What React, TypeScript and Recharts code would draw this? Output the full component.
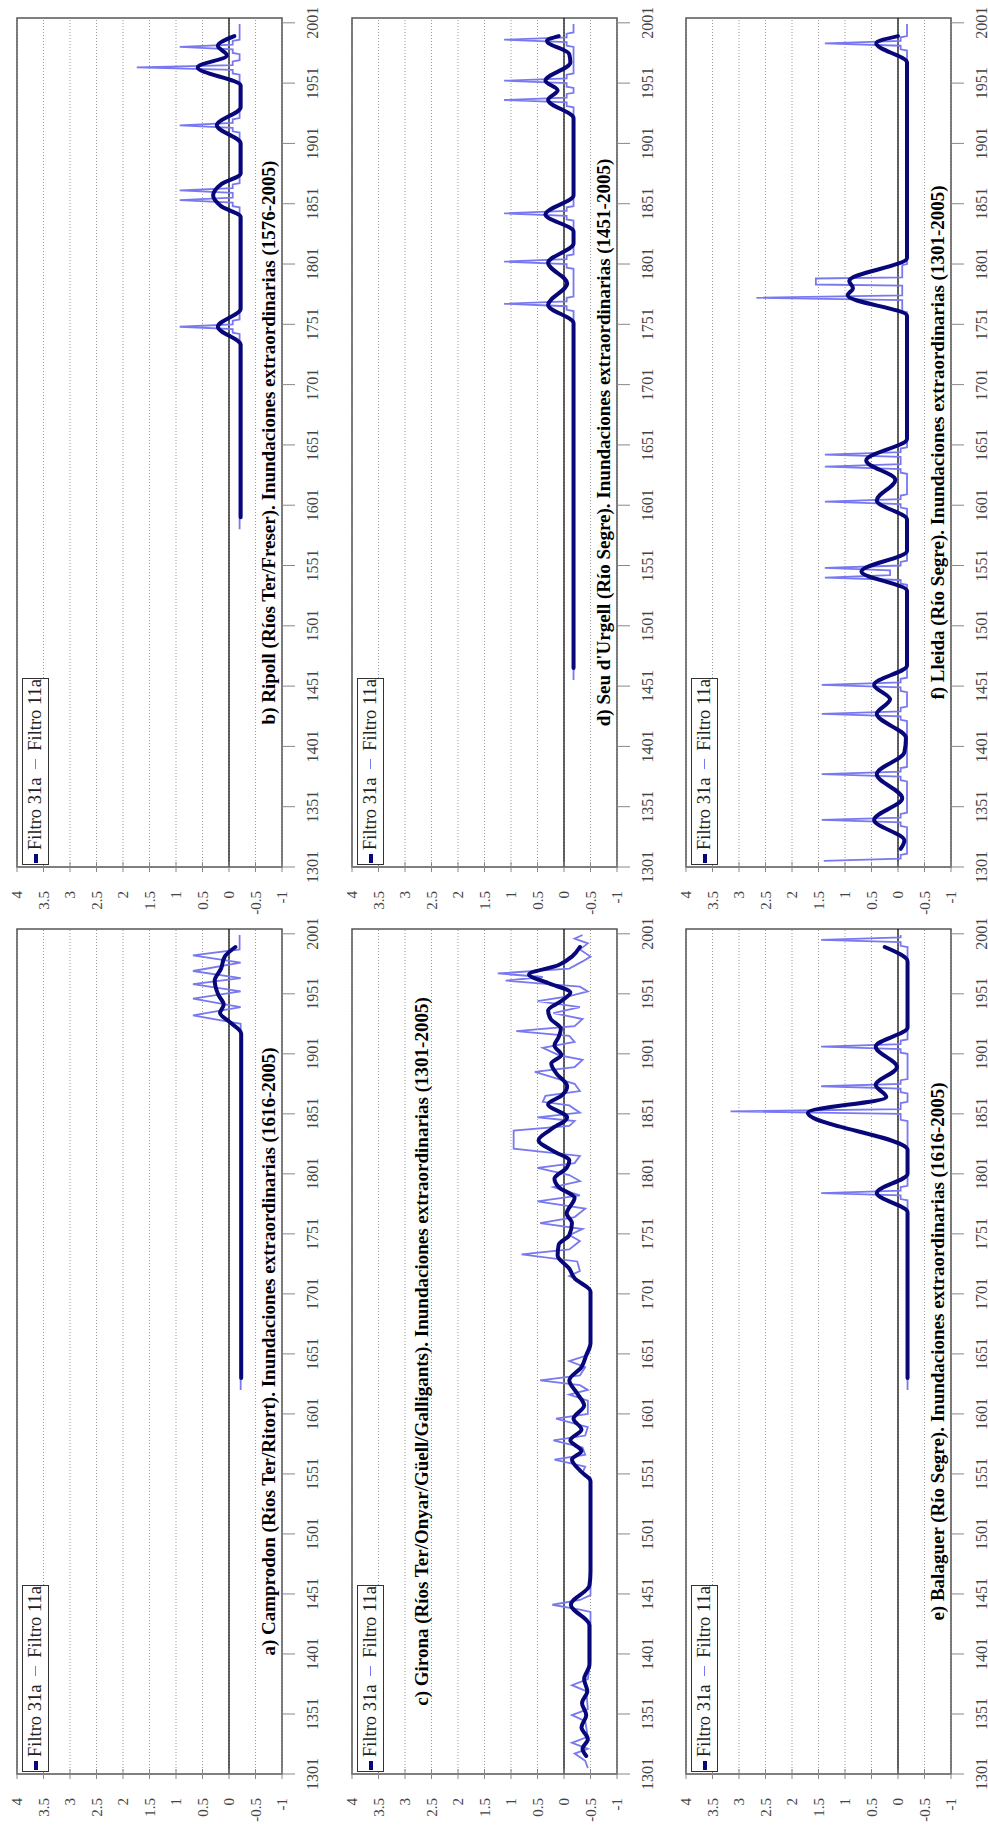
import { LineChart, Line, XAxis, YAxis, CartesianGrid, ReferenceLine, ReferenceArea } from "recharts";

// figure is drawn upright (2 columns x 3 rows) and then turned a quarter turn to the left
const YEAR_TICKS = [1301, 1351, 1401, 1451, 1501, 1551, 1601, 1651, 1701, 1751, 1801, 1851, 1901, 1951, 2001];
const VALUE_TICKS = [-1, -0.5, 0, 0.5, 1, 1.5, 2, 2.5, 3, 3.5, 4];

const DARK = "#07077a";
const LIGHT = "#7878f0";
const SERIF = '"Liberation Serif", "Times New Roman", serif';

type Pt = [number, number];

// a) Camprodon
const camprodon11: Pt[] = [[1621,-0.22],[1926,-0.22],[1933,0.68],[1940,-0.22],[1947,0.68],[1953,-0.22],[1959,0.68],[1964,-0.22],[1970,0.68],[1977,-0.22],[1983,0.68],[1988,-0.2],[2000,-0.2]];
const camprodon31: Pt[] = [[1631,-0.23],[1918,-0.23],[1928,0.0],[1935,0.17],[1942,0.1],[1950,0.2],[1962,0.27],[1972,0.15],[1982,0.08],[1990,-0.12]];

// b) Ripoll
const ripoll11: Pt[] = [
  [1581,-0.2],[1743,-0.2],[1744,-0.07],[1747,-0.07],[1749,0.93],[1751,-0.07],[1754,-0.07],[1755,-0.2],
  [1848,-0.2],[1849,-0.07],[1852,-0.07],[1854,0.93],[1856,-0.07],[1860,-0.07],[1862,0.93],[1864,-0.07],[1867,-0.07],[1868,-0.2],
  [1910,-0.2],[1911,-0.07],[1914,-0.07],[1916,0.93],[1918,-0.07],[1921,-0.07],[1922,-0.2],
  [1958,-0.2],[1959,-0.07],[1962,-0.07],[1964,1.74],[1966,-0.07],[1969,-0.07],[1970,-0.2],
  [1975,-0.2],[1976,-0.07],[1979,-0.07],[1981,0.93],[1983,-0.07],[1986,-0.07],[1987,-0.2],[2000,-0.2],
];
const ripoll31: Pt[] = [[1591,-0.22],[1734,-0.22],[1749,0.21],[1764,-0.22],[1840,-0.22],[1849,0.15],[1858,0.3],[1867,0.15],[1876,-0.22],[1901,-0.22],[1916,0.23],[1931,-0.22],[1949,-0.22],[1964,0.59],[1974,0.04],[1982,0.21],[1990,-0.1]];

// c) Girona
const girona11: Pt[] = [
  [1306,-0.45],[1312,-0.4],[1318,-0.2],[1322,-0.45],[1327,-0.15],[1332,-0.45],[1345,-0.4],[1350,-0.15],[1355,-0.45],[1370,-0.42],[1375,-0.15],[1380,-0.45],[1395,-0.5],
  [1436,-0.5],[1438,-0.3],[1442,0.22],[1446,-0.3],[1450,-0.5],[1548,-0.5],[1552,-0.35],[1557,-0.4],[1563,0.18],[1567,-0.4],[1573,-0.35],[1579,0.2],[1583,-0.4],
  [1590,-0.45],[1597,0.15],[1601,-0.45],[1612,-0.45],[1617,-0.1],[1621,-0.45],[1625,-0.3],[1629,0.45],[1633,-0.3],[1640,-0.4],[1645,-0.1],[1650,-0.45],[1655,-0.5],[1703,-0.5],
  [1707,-0.45],[1712,-0.3],[1716,-0.1],[1720,-0.3],[1728,-0.25],[1734,0.8],[1738,-0.1],[1745,-0.3],[1750,-0.1],[1755,-0.35],[1760,0.45],[1765,-0.2],[1772,-0.4],
  [1778,0.5],[1783,-0.3],[1790,0.2],[1795,-0.3],[1800,-0.1],[1806,0.5],[1810,-0.2],[1816,-0.3],[1822,0.95],[1830,0.95],[1837,0.95],[1841,-0.1],[1845,-0.2],
  [1848,0.5],[1852,-0.3],[1858,-0.1],[1861,0.4],[1866,0.35],[1870,-0.3],[1876,-0.2],[1880,0.1],[1886,0.55],[1890,-0.2],[1896,-0.35],[1900,0.1],[1906,0.4],
  [1911,-0.2],[1916,-0.1],[1920,0.9],[1924,-0.2],[1930,-0.35],[1935,0.2],[1940,-0.3],[1945,0.5],[1949,-0.1],[1953,-0.45],[1957,-0.3],[1962,1.1],[1965,0.4],
  [1968,1.25],[1972,-0.1],[1978,-0.35],[1982,-0.5],[1988,-0.3],[1993,-0.45],[1997,-0.2],[2000,-0.35],
];
const girona31: Pt[] = [
  [1316,-0.42],[1322,-0.35],[1330,-0.45],[1340,-0.33],[1350,-0.42],[1360,-0.34],[1370,-0.44],[1380,-0.38],[1392,-0.48],[1425,-0.48],[1442,-0.13],[1458,-0.48],
  [1470,-0.5],[1545,-0.5],[1553,-0.32],[1563,-0.15],[1570,-0.33],[1579,-0.12],[1588,-0.33],[1597,-0.18],[1608,-0.38],[1618,-0.25],[1629,-0.1],[1640,-0.33],
  [1650,-0.42],[1660,-0.5],[1703,-0.5],[1714,-0.2],[1722,-0.1],[1733,0.12],[1742,0.1],[1750,-0.1],[1760,-0.15],[1768,-0.05],[1781,-0.2],[1790,0.1],[1797,0.18],
  [1806,-0.05],[1812,-0.1],[1820,0.2],[1829,0.48],[1838,0.25],[1848,-0.06],[1859,0.3],[1866,0.05],[1874,-0.06],[1885,0.15],[1893,0.24],[1900,0.05],[1908,0.18],
  [1915,0.1],[1922,0.06],[1930,0.25],[1937,0.3],[1945,0.05],[1952,-0.12],[1960,0.3],[1967,0.66],[1975,0.1],[1982,-0.15],[1990,-0.3],
];

// d) Seu d'Urgell
const seu11: Pt[] = [
  [1456,-0.18],[1762,-0.18],[1763,-0.05],[1766,-0.05],[1768,1.13],[1770,-0.05],[1773,-0.05],[1774,-0.18],
  [1797,-0.18],[1798,-0.05],[1801,-0.05],[1803,1.13],[1805,-0.05],[1808,-0.05],[1809,-0.18],
  [1837,-0.18],[1838,-0.05],[1841,-0.05],[1843,1.13],[1845,-0.05],[1848,-0.05],[1849,-0.18],
  [1931,-0.18],[1932,-0.05],[1935,-0.05],[1937,1.13],[1939,-0.05],[1942,-0.05],[1943,-0.18],
  [1947,-0.18],[1948,-0.05],[1951,-0.05],[1953,1.13],[1955,-0.05],[1958,-0.05],[1959,-0.18],
  [1981,-0.18],[1982,-0.05],[1985,-0.05],[1987,1.13],[1989,-0.05],[1992,-0.05],[1993,-0.18],[2000,-0.18],
];
const seu31: Pt[] = [[1466,-0.18],[1752,-0.18],[1767,0.3],[1785,-0.06],[1802,0.3],[1818,-0.18],[1828,-0.18],[1842,0.35],[1858,-0.18],[1922,-0.18],[1937,0.3],[1945,0.12],[1953,0.35],[1968,-0.12],[1975,-0.1],[1986,0.32],[1990,0.1]];

// e) Balaguer
const balaguer11: Pt[] = [
  [1621,-0.18],[1779,-0.18],[1780,-0.05],[1783,-0.05],[1785,1.45],[1787,-0.05],[1790,-0.05],[1791,-0.18],
  [1845,-0.18],[1846,-0.05],[1851,-0.05],[1853,3.16],[1855,-0.05],[1860,-0.05],[1861,-0.18],
  [1868,-0.18],[1869,-0.05],[1872,-0.05],[1874,1.45],[1876,-0.05],[1879,-0.05],[1880,-0.18],
  [1901,-0.18],[1902,-0.05],[1905,-0.05],[1907,1.45],[1909,-0.05],[1912,-0.05],[1913,-0.18],
  [1990,-0.18],[1991,-0.05],[1994,-0.05],[1996,1.45],[1998,-0.05],[2000,-0.05],
];
const balaguer31: Pt[] = [[1631,-0.18],[1769,-0.18],[1785,0.4],[1801,-0.18],[1821,-0.18],[1852,1.7],[1865,0.22],[1875,0.42],[1890,0.02],[1907,0.42],[1923,-0.18],[1978,-0.18],[1990,0.25]];

// f) Lleida
const lleida11: Pt[] = [
  [1306,1.4],[1308,-0.05],[1311,-0.05],[1312,-0.17],
  [1334,-0.17],[1335,-0.05],[1338,-0.05],[1340,1.44],[1342,-0.05],[1345,-0.05],[1346,-0.17],
  [1372,-0.17],[1373,-0.05],[1376,-0.05],[1378,1.44],[1380,-0.05],[1383,-0.05],[1384,-0.17],
  [1422,-0.17],[1423,-0.05],[1426,-0.05],[1428,1.44],[1430,-0.05],[1433,-0.05],[1434,-0.17],
  [1446,-0.17],[1447,-0.05],[1450,-0.05],[1452,1.44],[1454,-0.05],[1457,-0.05],[1458,-0.17],
  [1535,-0.17],[1536,-0.05],[1539,-0.05],[1541,1.38],[1543,0.15],[1547,0.15],[1549,1.38],[1551,-0.05],[1554,-0.05],[1555,-0.17],
  [1598,-0.17],[1599,-0.05],[1602,-0.05],[1604,1.38],[1606,-0.05],[1609,-0.05],[1610,-0.17],
  [1627,-0.17],[1628,-0.05],[1631,-0.05],[1633,1.38],[1635,-0.05],[1641,-0.05],[1643,1.38],[1645,-0.05],[1648,-0.05],[1649,-0.17],
  [1761,-0.17],[1762,-0.08],[1771,-0.08],[1773,2.67],[1775,-0.08],[1783,-0.08],[1784,1.55],[1789,1.55],[1790,-0.08],[1800,-0.08],[1801,-0.17],
  [1978,-0.17],[1979,-0.05],[1982,-0.05],[1984,1.38],[1986,-0.05],[1989,-0.05],[1990,-0.17],[2000,-0.17],
];
const lleida31: Pt[] = [[1316,-0.05],[1323,-0.12],[1340,0.45],[1358,-0.08],[1378,0.4],[1396,-0.12],[1408,-0.15],[1428,0.4],[1440,0.15],[1452,0.45],[1468,-0.17],[1530,-0.17],[1546,0.69],[1563,-0.17],[1589,-0.17],[1605,0.4],[1622,0.05],[1638,0.6],[1656,-0.17],[1758,-0.17],[1775,0.95],[1781,0.85],[1787,0.92],[1806,-0.17],[1968,-0.17],[1984,0.41],[1990,0.0]];

// titleHigh: the Girona caption sits under the legend instead of near the lower axis
const panels = [
  { title: "a) Camprodon (Ríos Ter/Ritort). Inundaciones extraordinarias (1616-2005)", col: 0, row: 0, light: camprodon11, heavy: camprodon31, titleHigh: false },
  { title: "b) Ripoll (Ríos Ter/Freser). Inundaciones extraordinarias (1576-2005)", col: 1, row: 0, light: ripoll11, heavy: ripoll31, titleHigh: false },
  { title: "c) Girona (Ríos Ter/Onyar/Güell/Galligants). Inundaciones extraordinarias (1301-2005)", col: 0, row: 1, light: girona11, heavy: girona31, titleHigh: true },
  { title: "d) Seu d'Urgell (Río Segre). Inundaciones extraordinarias (1451-2005)", col: 1, row: 1, light: seu11, heavy: seu31, titleHigh: false },
  { title: "e) Balaguer (Río Segre). Inundaciones extraordinarias (1616-2005)", col: 0, row: 2, light: balaguer11, heavy: balaguer31, titleHigh: false },
  { title: "f) Lleida (Río Segre). Inundaciones extraordinarias (1301-2005)", col: 1, row: 2, light: lleida11, heavy: lleida31, titleHigh: false },
];

const toRows = (pts: Pt[]) => pts.map(([year, v]) => ({ year, v }));

const CHART_W = 915;
const CHART_H = 319;
const ROW_TOP = [0, 335, 669];
const PLOT_TOP = 17;
const PLOT_BOTTOM = 282;

function YearTick({ x, y, payload }: any) {
  return (
    <g>
      <line x1={x} x2={x} y1={y} y2={y + 13} stroke="#888" strokeWidth={1} />
      <text x={x} y={y + 30} textAnchor="middle" dominantBaseline="central" fontSize={16} fill="#444" fontFamily={SERIF}>
        {payload.value}
      </text>
    </g>
  );
}

function ValueTick({ x, y, payload }: any) {
  return (
    <g>
      <line x1={x - 5} x2={x + 5} y1={y} y2={y} stroke="#888" strokeWidth={1} />
      <text x={x - 24} y={y} textAnchor="end" dominantBaseline="central" fontSize={15} fill="#444" fontFamily={SERIF}>
        {payload.value}
      </text>
    </g>
  );
}

function Panel({ title, col, row, light, heavy, titleHigh }: (typeof panels)[number]) {
  const left = col * CHART_W;
  const top = ROW_TOP[row];
  const axisW = col === 0 ? 56 : 48;
  const right = col === 0 ? 14 : 18;
  const plotW = CHART_W - axisW - right;
  return (
    <div style={{ position: "absolute", left, top, width: CHART_W, height: CHART_H }}>
      <LineChart width={CHART_W} height={CHART_H} margin={{ top: PLOT_TOP, right, bottom: 7, left: 0 }}>
        <CartesianGrid vertical={false} strokeDasharray="1 2" stroke="#999" />
        <XAxis
          type="number"
          dataKey="year"
          domain={[1301, 2005]}
          ticks={YEAR_TICKS}
          height={30}
          axisLine={false}
          tickLine={false}
          tickSize={0}
          tickMargin={0}
          tick={<YearTick />}
          allowDataOverflow
        />
        <YAxis
          type="number"
          domain={[-1, 4]}
          ticks={VALUE_TICKS}
          width={axisW}
          axisLine={false}
          tickLine={false}
          tickSize={0}
          tickMargin={0}
          tick={<ValueTick />}
          allowDataOverflow
        />
        <ReferenceArea x1={1301} x2={2005} y1={-1} y2={4} fill="none" stroke="#555" strokeWidth={1.5} ifOverflow="visible" />
        <ReferenceLine y={0} stroke="#111" strokeWidth={1.3} />
        <Line data={toRows(light)} dataKey="v" type="linear" stroke={LIGHT} strokeWidth={1.8} dot={false} isAnimationActive={false} />
        <Line data={toRows(heavy)} dataKey="v" type="monotone" stroke={DARK} strokeWidth={4} dot={false} isAnimationActive={false} strokeLinecap="round" />
      </LineChart>
      <div
        style={{
          position: "absolute",
          left: axisW + 2,
          top: PLOT_TOP + 5,
          width: 187,
          height: 27,
          boxSizing: "border-box",
          border: "1.5px solid #333",
          background: "#fff",
          display: "flex",
          alignItems: "center",
          fontFamily: SERIF,
          fontSize: 18.5,
          color: "#222",
          whiteSpace: "nowrap",
        }}
      >
        <span style={{ display: "inline-block", width: 12, height: 4, background: DARK, marginLeft: 1 }} />
        <span style={{ marginLeft: 4 }}>Filtro 31a</span>
        <span style={{ display: "inline-block", width: 13, height: 1.8, background: LIGHT, marginLeft: 9 }} />
        <span style={{ marginLeft: 8 }}>Filtro 11a</span>
      </div>
      <div
        style={{
          position: "absolute",
          left: axisW,
          width: plotW,
          top: titleHigh ? PLOT_TOP + 59 : PLOT_BOTTOM - 24.4,
          textAlign: "center",
          fontFamily: SERIF,
          fontWeight: "bold",
          fontSize: 19,
          lineHeight: "22px",
          whiteSpace: "nowrap",
          color: "#000",
        }}
      >
        {title}
      </div>
    </div>
  );
}

export default function App() {
  return (
    <div
      style={{
        position: "absolute",
        left: 0,
        top: 0,
        width: 1830,
        height: 988,
        background: "#fff",
        transformOrigin: "0 0",
        transform: "translate(0px, 1830px) rotate(-90deg)",
      }}
    >
      {panels.map((p) => (
        <Panel key={p.title} {...p} />
      ))}
    </div>
  );
}
